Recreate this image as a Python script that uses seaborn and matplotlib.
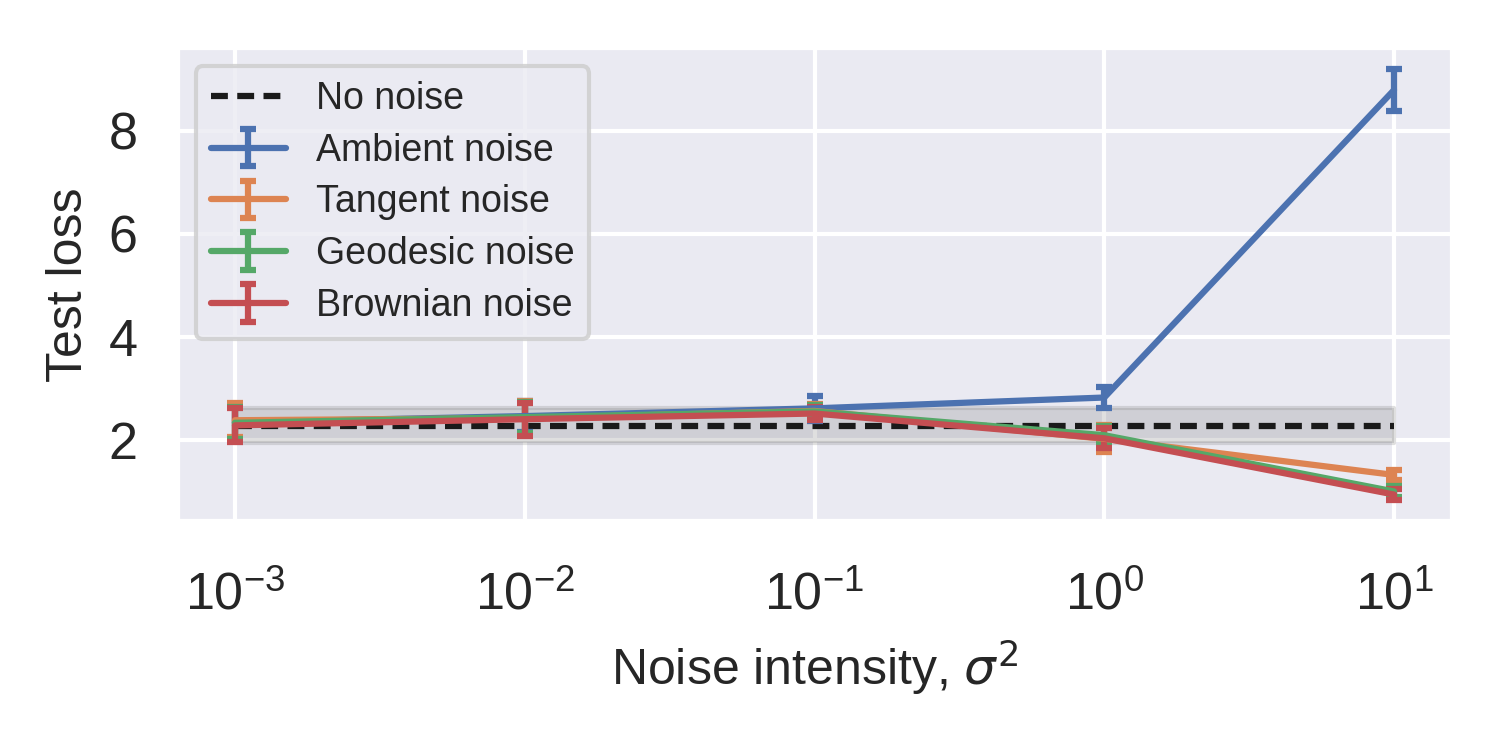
import numpy as np
import matplotlib
matplotlib.use("Agg")
import matplotlib.pyplot as plt
import seaborn as sns

# Data
noise_levels = [1e-3, 1e-2, 1e-1, 1.0, 10.0]
series_names = ["Ambient noise", "Tangent noise", "Geodesic noise", "Brownian noise"]
ambient_mean = [2.35, 2.47, 2.62, 2.83, 8.79]
ambient_err = [0.32, 0.30, 0.24, 0.20, 0.41]
tangent_mean = [2.39, 2.43, 2.57, 2.03, 1.33]
tangent_err = [0.33, 0.33, 0.13, 0.26, 0.10]
geodesic_mean = [2.34, 2.45, 2.56, 2.10, 1.01]
geodesic_err = [0.31, 0.30, 0.13, 0.18, 0.10]
brownian_mean = [2.29, 2.41, 2.52, 2.04, 0.95]
brownian_err = [0.33, 0.32, 0.13, 0.19, 0.10]
no_noise_mean = 2.28
no_noise_std = 0.34

sns.set_theme(style="darkgrid", context="notebook")
plt.rcParams['font.family'] = ['Liberation Sans', 'DejaVu Sans']

fig, ax = plt.subplots(figsize=(5, 2.5), dpi=300)
palette = sns.color_palette("deep")

base = np.full(len(noise_levels), no_noise_mean)
ax.fill_between(noise_levels, base - no_noise_std, base + no_noise_std,
                color="grey", alpha=0.25)
sns.lineplot(x=noise_levels, y=base, ax=ax, color="k", linestyle="--",
             dashes=False, label="No noise")
ax.lines[-1].set_dashes((2.7, 1.5))

means = [ambient_mean, tangent_mean, geodesic_mean, brownian_mean]
errs = [ambient_err, tangent_err, geodesic_err, brownian_err]
for i, (name, m, e) in enumerate(zip(series_names, means, errs)):
    ax.errorbar(noise_levels, m, yerr=e, color=palette[i], label=name,
                capsize=2, capthick=1.5, lw=1.5)

ax.set_xscale("log")
ax.set_xlabel(r"Noise intensity, $\sigma^2$", fontsize=12)
ax.set_ylabel("Test loss", fontsize=12)
ax.set_yticks([2, 4, 6, 8])
ax.tick_params(axis="both", labelsize=12.5)
ax.tick_params(axis="x", pad=6)
ax.legend(loc="upper left", fontsize=9, labelspacing=0.42)

fig.subplots_adjust(left=0.118, right=0.968, top=0.937, bottom=0.305)
fig.savefig("out.png", dpi=300)
